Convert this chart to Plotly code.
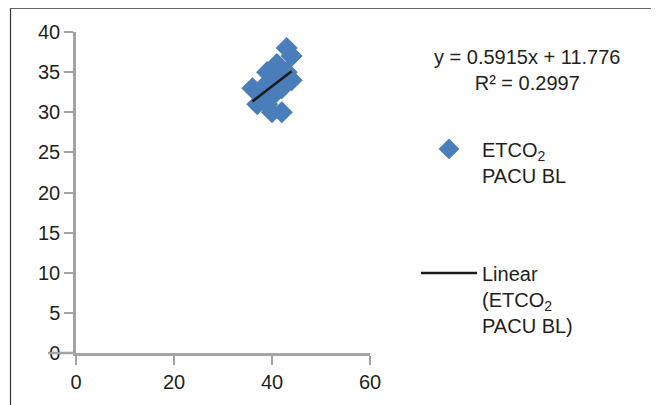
import numpy as np
import plotly.graph_objects as go

# Data
etco2_x = [43, 44, 41, 44, 36, 40, 42, 37, 39, 42, 40, 38, 41, 39, 43, 40]
etco2_y = [38, 37, 36, 34, 33, 30, 30, 31, 35, 33, 32, 33, 34, 31, 35, 34]
x_ticks = [0, 20, 40, 60]
y_ticks = [0, 5, 10, 15, 20, 25, 30, 35, 40]
equation_text = "y = 0.5915x + 11.776"
r2_text = "R² = 0.2997"

slope, intercept = np.polyfit(etco2_x, etco2_y, 1)
fit_x = [min(etco2_x), max(etco2_x)]
fit_y = [slope * v + intercept for v in fit_x]

FONT = "Liberation Sans, Arial, sans-serif"
FS = 20
TXT = "#231f20"
AX = "#a3a3a3"

fig = go.Figure()
fig.add_trace(go.Scatter(
    x=etco2_x, y=etco2_y, mode="markers",
    name="ETCO<sub>2</sub><br>PACU BL", legendgroup="a",
    marker=dict(symbol="diamond", size=17, color="#4a7ebb",
                line=dict(width=0)),
))
fig.add_trace(go.Scatter(
    x=fit_x, y=fit_y, mode="lines",
    name="Linear<br>(ETCO<sub>2</sub><br>PACU BL)", legendgroup="b",
    line=dict(color="#1a1a1a", width=2.5),
))

axis_common = dict(
    showgrid=False, zeroline=False, showline=True, linecolor=AX, linewidth=2.5,
    ticks="outside", tickcolor=AX, tickwidth=2, ticklen=9,
    tickfont=dict(family=FONT, size=FS, color=TXT),
)
fig.update_xaxes(range=[0, 60], tickvals=x_ticks, **axis_common)
fig.update_yaxes(range=[0, 40], tickvals=y_ticks, **axis_common)

# helpers: target-picture pixel -> paper coordinates of the plot area
def px(x):
    return (x - 76) / 294.0

def py(y):
    return (355 - y) / 323.0

shapes = [
    dict(type="line", xref="paper", yref="paper", x0=px(10.5), x1=px(10.5),
         y0=py(8), y1=py(410), line=dict(color="#333333", width=1.2)),
    dict(type="line", xref="paper", yref="paper", x0=px(10.5), x1=px(656),
         y0=py(8), y1=py(8), line=dict(color="#333333", width=1.2)),
    dict(type="line", xref="paper", yref="paper", x0=px(656), x1=px(656),
         y0=py(8), y1=py(410), line=dict(color="#8a8a8a", width=2)),
    dict(type="line", xref="paper", yref="paper", x0=px(48), x1=0,
         y0=0, y1=0, line=dict(color=AX, width=2.5)),
]

# The page body has an 8px margin, so the figure is 8px smaller each way.
fig.update_layout(
    width=651, height=397,
    margin=dict(l=68, r=289, t=24, b=50),
    paper_bgcolor="white", plot_bgcolor="white",
    font=dict(family=FONT, size=FS, color=TXT),
    showlegend=True,
    legend=dict(x=px(416), y=py(130), xanchor="left", yanchor="top",
                valign="top", itemwidth=56,
                tracegroupgap=69, font=dict(family=FONT, size=FS, color=TXT),
                bgcolor="rgba(0,0,0,0)"),
    shapes=shapes,
    annotations=[
        dict(text=equation_text + "<br>" + r2_text, xref="paper", yref="paper",
             x=px(527), y=py(70), xanchor="center", yanchor="middle",
             showarrow=False, align="center",
             font=dict(family=FONT, size=FS, color=TXT)),
    ],
)

fig.write_html("out.html")
